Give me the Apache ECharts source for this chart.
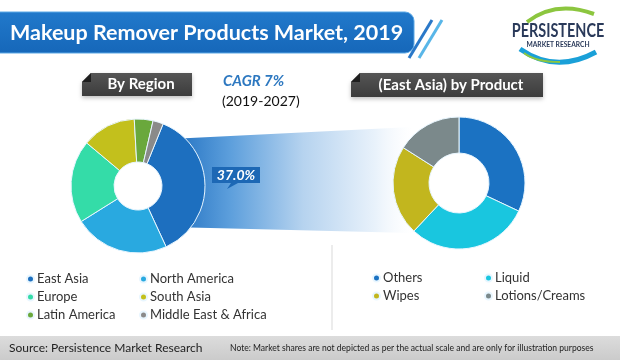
<!DOCTYPE html>
<html>
<head>
<meta charset="utf-8">
<script src="https://cdn.jsdelivr.net/npm/echarts@6/dist/echarts.min.js"></script>
<style>
html,body{margin:0;padding:0;background:#fff;}
#chart{width:620px;height:360px;}
</style>
</head>
<body>
<div id="chart"></div>
<script>
// ---- data ----
var regionNames = ['East Asia', 'North America', 'Europe', 'South Asia', 'Latin America', 'Middle East & Africa'];
var regionValues = [37, 23, 20, 13, 4.5, 2.5];
var regionColors = ['#1d6fbf', '#29a9e0', '#34dca8', '#c3c01c', '#6aa83c', '#8a8a8a'];

var productNames = ['Others', 'Liquid', 'Wipes', 'Lotions/Creams'];
var productValues = [32, 30, 22, 16];
var productColors = ['#1b72c2', '#19c6df', '#c2b61e', '#7b898b'];

var titleText = 'Makeup Remover Products Market, 2019';
var leftHeader = 'By Region';
var rightHeader = '(East Asia) by Product';
var cagrText = 'CAGR 7%';
var cagrPeriod = '(2019-2027)';
var highlightLabel = '37.0%';
var sourceText = 'Source: Persistence Market Research';
var noteText = 'Note: Market shares are not depicted as per the actual scale and are only for illustration purposes';

var FONT = 'Lato, "Open Sans", sans-serif';

function buildData(names, values, colors) {
  return names.map(function (n, i) {
    return { name: n, value: values[i], itemStyle: { color: colors[i] } };
  });
}

function headerBox(x, y, w, h, text) {
  return {
    type: 'group', z: 10,
    children: [
      { type: 'polygon', shape: { points: [[x + 9, y], [x + w, y], [x + w, y + h], [x, y + h], [x, y + 9]] },
        style: { fill: new echarts.graphic.LinearGradient(0, 0, 0, 1, [{ offset: 0, color: '#555' }, { offset: 1, color: '#3c3c3c' }]),
                 shadowBlur: 4, shadowColor: 'rgba(0,0,0,0.25)', shadowOffsetY: 2 } },
      { type: 'polygon', shape: { points: [[x, y + 9], [x + 9, y], [x + 9, y + 9]] }, style: { fill: '#1e1e1e' } },
      { type: 'text', x: x + w / 2 + 4, y: y + h / 2,
        style: { text: text, fill: '#fff', font: 'bold 15px ' + FONT, align: 'center', verticalAlign: 'middle' } }
    ]
  };
}

var chart = echarts.init(document.getElementById('chart'));
var option = {
  backgroundColor: '#fff',
  animation: false,
  legend: [
    { data: [regionNames[0], regionNames[2], regionNames[4]], left: 26, top: 272 },
    { data: [regionNames[1], regionNames[3], regionNames[5]], left: 139, top: 272 },
    { data: [productNames[0], productNames[2]], left: 372, top: 271 },
    { data: [productNames[1], productNames[3]], left: 484, top: 271 }
  ].map(function (l) {
    return Object.assign({
      orient: 'vertical', icon: 'circle', itemWidth: 7, itemHeight: 7, itemGap: 4, padding: 0,
      textStyle: { fontFamily: FONT, fontSize: 13, color: '#333', lineHeight: 14, padding: [0, 0, 0, -2] },
      selectedMode: false
    }, l);
  }),
  series: [
    {
      type: 'pie', name: 'By Region', center: [138, 186], radius: [24, 67],
      startAngle: 68, clockwise: true, label: { show: false }, labelLine: { show: false },
      itemStyle: { borderColor: '#e8f6ff', borderWidth: 1 },
      emphasis: { disabled: true },
      data: buildData(regionNames, regionValues, regionColors)
    },
    {
      type: 'pie', name: 'By Product', center: [459, 183], radius: [30, 66],
      startAngle: 90, clockwise: true, label: { show: false }, labelLine: { show: false },
      itemStyle: { borderColor: '#e8f6ff', borderWidth: 1 },
      emphasis: { disabled: true },
      data: buildData(productNames, productValues, productColors)
    }
  ],
  graphic: [
    // funnel gradient (behind pies)
    { type: 'polygon', z: 0,
      shape: { points: [[170, 139], [412, 127], [412, 233], [170, 227]] },
      style: { fill: new echarts.graphic.LinearGradient(0, 0, 1, 0, [
        { offset: 0, color: '#1f6fc0' }, { offset: 0.25, color: '#5d9fdc' },
        { offset: 0.55, color: '#b6d3ef' }, { offset: 0.85, color: '#e9f2fb' }, { offset: 1, color: 'rgba(245,249,253,0)' }]) } },
    // title banner
    { type: 'rect', z: 10, shape: { x: -6, y: 12, width: 420, height: 41, r: [0, 9, 9, 0] },
      style: { fill: new echarts.graphic.LinearGradient(0, 0, 0, 1, [{ offset: 0, color: '#2179cb' }, { offset: 1, color: '#1667b9' }]),
               stroke: '#5aa8e6', lineWidth: 1 } },
    { type: 'line', z: 11, shape: { x1: 409, y1: 58, x2: 432, y2: 20 }, style: { stroke: '#2a78c8', lineWidth: 3 } },
    { type: 'line', z: 11, shape: { x1: 419, y1: 58, x2: 442, y2: 20 }, style: { stroke: '#59b6e8', lineWidth: 3 } },
    { type: 'text', z: 12, x: 10, y: 33,
      style: { text: titleText, fill: '#fff', font: 'bold 21.5px ' + FONT, verticalAlign: 'middle' } },
    // logo
    { type: 'bezierCurve', z: 10, shape: { x1: 527, y1: 22, x2: 594, y2: 14, cpx1: 556, cpy1: 0 },
      style: { stroke: '#8cc63f', lineWidth: 4, fill: null } },
    { type: 'bezierCurve', z: 10, shape: { x1: 520, y1: 49, x2: 596, y2: 52, cpx1: 556, cpy1: 74 },
      style: { stroke: '#1aa0d8', lineWidth: 5, fill: null } },
    { type: 'bezierCurve', z: 10, shape: { x1: 524, y1: 53, x2: 560, y2: 62, cpx1: 535, cpy1: 62 },
      style: { stroke: '#8cc63f', lineWidth: 2, fill: null } },
    { type: 'text', z: 12, x: 558, y: 31, scaleX: 0.76, originX: 0,
      style: { text: 'PERSISTENCE', fill: '#2a3a5a', font: 'bold 19px ' + FONT, align: 'center', verticalAlign: 'middle' } },
    { type: 'text', z: 12, x: 558, y: 44.5, scaleX: 0.95, originX: 0,
      style: { text: 'MARKET RESEARCH', fill: '#2a3a5a', font: 'bold 7px ' + FONT, align: 'center', verticalAlign: 'middle' } },
    // headers
    headerBox(82, 73, 110, 23, leftHeader),
    headerBox(351, 73, 192, 24, rightHeader),
    { type: 'text', z: 12, x: 223, y: 81,
      style: { text: cagrText, fill: '#2d78c0', font: 'italic bold 15px ' + FONT, verticalAlign: 'middle' } },
    { type: 'text', z: 12, x: 222, y: 101,
      style: { text: cagrPeriod, fill: '#111', font: '14px ' + FONT, verticalAlign: 'middle' } },
    // callout
    { type: 'polygon', z: 12, shape: { points: [[212, 167], [260, 167], [260, 183], [238, 183], [227, 189], [231, 183], [212, 183]] },
      style: { fill: '#1d68b5' } },
    { type: 'text', z: 13, x: 236, y: 175,
      style: { text: highlightLabel, fill: '#fff', font: 'italic bold 14px ' + FONT, align: 'center', verticalAlign: 'middle' } },
    // divider
    { type: 'line', z: 5, shape: { x1: 332, y1: 245, x2: 332, y2: 330 }, style: { stroke: '#ececec', lineWidth: 2 } },
    // footer
    { type: 'rect', z: 5, shape: { x: 0, y: 336, width: 620, height: 24 },
      style: { fill: new echarts.graphic.LinearGradient(0, 0, 0, 1, [{ offset: 0, color: '#dcdcdc' }, { offset: 1, color: '#cbcbcb' }]) } },
    { type: 'text', z: 6, x: 9, y: 348,
      style: { text: sourceText, fill: '#222', font: '12px ' + FONT, verticalAlign: 'middle' } },
    { type: 'text', z: 6, x: 230, y: 348, scaleX: 0.9, originX: 0,
      style: { text: noteText, fill: '#222', font: '9.5px ' + FONT, verticalAlign: 'middle' } }
  ]
};
chart.setOption(option);
</script>
</body>
</html>
